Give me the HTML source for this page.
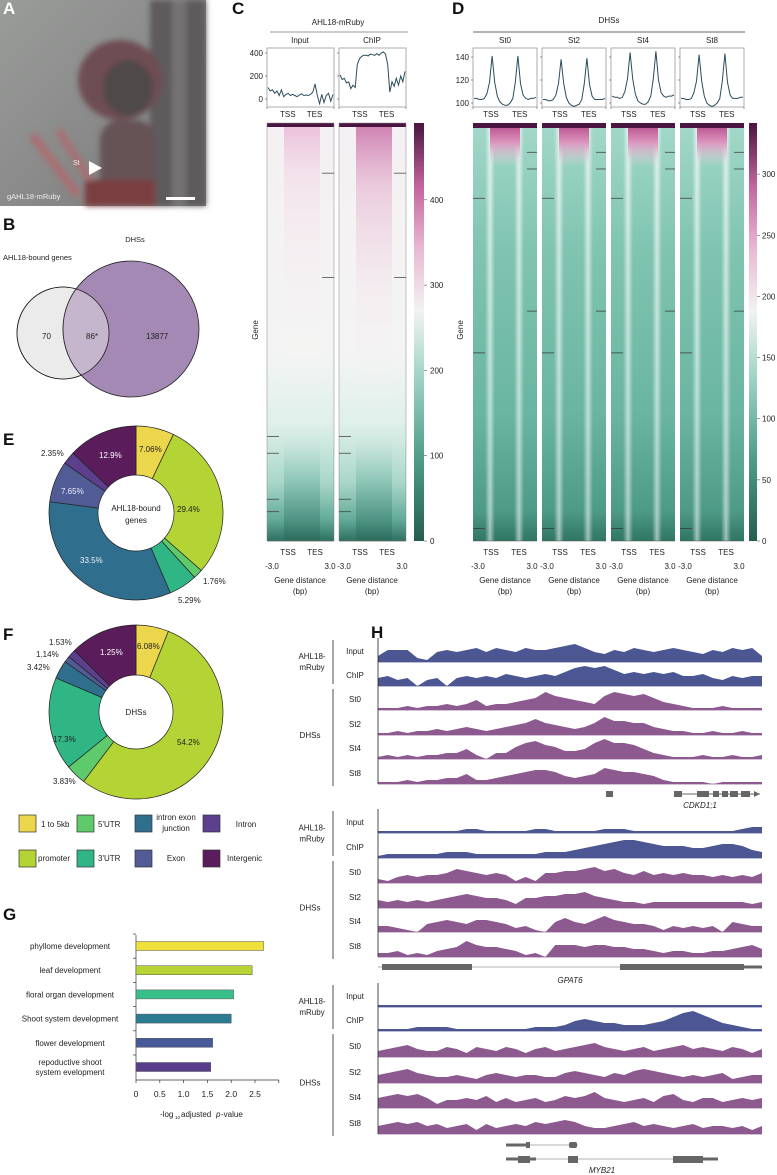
<!DOCTYPE html>
<html><head><meta charset="utf-8">
<style>
html,body{margin:0;padding:0;background:#fff;}
svg{display:block;font-family:"Liberation Sans",sans-serif;}
text{fill:#222;}
.pl{font-weight:bold;font-size:17px;fill:#111;}
</style></head>
<body>
<svg id="fig" width="777" height="1175" viewBox="0 0 777 1175" xmlns="http://www.w3.org/2000/svg">
<defs>
<linearGradient id="hmC" x1="0" y1="0" x2="0" y2="1">
<stop offset="0" stop-color="#f5f0f3"/><stop offset="0.55" stop-color="#f3f4f3"/><stop offset="0.72" stop-color="#dff0ea"/><stop offset="0.86" stop-color="#a9d7ca"/><stop offset="0.95" stop-color="#62aa98"/><stop offset="1" stop-color="#2e6f60"/></linearGradient>
<linearGradient id="hmCmid" x1="0" y1="0" x2="0" y2="1">
<stop offset="0" stop-color="#e6acd0" stop-opacity="0.7"/><stop offset="0.12" stop-color="#f0c8dd" stop-opacity="0.35"/><stop offset="0.35" stop-color="#f6e6ee" stop-opacity="0.15"/><stop offset="0.7" stop-color="#ffffff" stop-opacity="0"/><stop offset="0.85" stop-color="#5ea897" stop-opacity="0.35"/><stop offset="1" stop-color="#2b6a5b" stop-opacity="0.6"/></linearGradient>
<linearGradient id="hmCmid2" x1="0" y1="0" x2="0" y2="1">
<stop offset="0" stop-color="#c86fa6" stop-opacity="0.85"/><stop offset="0.15" stop-color="#e2a6c8" stop-opacity="0.5"/><stop offset="0.4" stop-color="#f3dbe8" stop-opacity="0.25"/><stop offset="0.7" stop-color="#ffffff" stop-opacity="0"/><stop offset="0.85" stop-color="#5ea897" stop-opacity="0.35"/><stop offset="1" stop-color="#2b6a5b" stop-opacity="0.6"/></linearGradient>
<linearGradient id="hmD" x1="0" y1="0" x2="0" y2="1">
<stop offset="0" stop-color="#a3d8c9"/><stop offset="0.3" stop-color="#80c4b1"/><stop offset="0.7" stop-color="#69b5a1"/><stop offset="0.93" stop-color="#4d9a86"/><stop offset="1" stop-color="#2f7564"/></linearGradient>
<linearGradient id="stripe" x1="0" y1="0" x2="1" y2="0">
<stop offset="0" stop-color="#fff" stop-opacity="0"/><stop offset="0.5" stop-color="#fff" stop-opacity="0.7"/><stop offset="1" stop-color="#fff" stop-opacity="0"/></linearGradient>
<linearGradient id="stripeFade" x1="0" y1="0" x2="0" y2="1">
<stop offset="0" stop-color="#fff" stop-opacity="1"/><stop offset="0.8" stop-color="#fff" stop-opacity="0.6"/><stop offset="1" stop-color="#fff" stop-opacity="0.1"/></linearGradient>
<mask id="stripeMask"><rect x="0" y="0" width="777" height="1175" fill="url(#stripeFade)"/></mask>
<linearGradient id="pinkTop" x1="0" y1="0" x2="0" y2="1">
<stop offset="0" stop-color="#b9538f"/><stop offset="0.4" stop-color="#dc93bd"/><stop offset="1" stop-color="#f4d6e6" stop-opacity="0"/></linearGradient>
<linearGradient id="cbC" x1="0" y1="1" x2="0" y2="0">
<stop offset="0" stop-color="#255e51"/><stop offset="0.2" stop-color="#4f9d8a"/><stop offset="0.4" stop-color="#a3d6c8"/><stop offset="0.55" stop-color="#f2f2f2"/><stop offset="0.7" stop-color="#e9b8d3"/><stop offset="0.85" stop-color="#c2649d"/><stop offset="1" stop-color="#4a1540"/></linearGradient>
<linearGradient id="photo" x1="0" y1="0" x2="1" y2="1">
<stop offset="0" stop-color="#9a9c9a"/><stop offset="1" stop-color="#7a7a7a"/></linearGradient>
<filter id="blur"><feGaussianBlur stdDeviation="3"/></filter>
</defs>

<!-- Panel A -->
<g>
<rect x="0" y="0" width="206" height="206" fill="url(#photo)"/>
<g filter="url(#blur)">
<rect x="150" y="0" width="56" height="206" fill="#5e5a5c"/>
<rect x="172" y="0" width="14" height="206" fill="#757373"/>
<ellipse cx="120" cy="80" rx="42" ry="40" fill="#6e4e52"/>
<ellipse cx="128" cy="88" rx="25" ry="28" fill="#504848"/>
<rect x="100" y="120" width="55" height="86" rx="20" fill="#665356"/>
<rect x="85" y="180" width="70" height="26" fill="#7a3d40"/>
<line x1="32" y1="135" x2="78" y2="195" stroke="#a87073" stroke-width="9"/>
<line x1="58" y1="130" x2="90" y2="180" stroke="#a87073" stroke-width="8"/>
</g>
<text x="3" y="14" class="pl" style="fill:#fff">A</text>
<text x="73" y="165" font-size="7" style="fill:#eee">St</text>
<polygon points="89,161 89,175 102,168" fill="#fff"/>
<text x="7" y="199" font-size="7.5" style="fill:#eee">gAHL18-mRuby</text>
<rect x="166" y="197" width="29" height="3" fill="#fff"/>
</g>

<!-- Panel B -->
<g>
<text x="3" y="230" class="pl">B</text>
<text x="135" y="242" font-size="7.5" text-anchor="middle">DHSs</text>
<text x="3" y="260" font-size="7.5">AHL18-bound genes</text>
<circle cx="63" cy="333" r="46" fill="#ebebeb" stroke="#222" stroke-width="0.8"/>
<circle cx="131" cy="329" r="68" fill="#a489b4" stroke="#222" stroke-width="0.8"/>
<clipPath id="smallc"><circle cx="63" cy="333" r="46"/></clipPath>
<circle cx="131" cy="329" r="68" fill="#c6b6cd" clip-path="url(#smallc)" stroke="#222" stroke-width="0.8"/>
<circle cx="63" cy="333" r="46" fill="none" stroke="#222" stroke-width="0.8"/>
<text x="42" y="339" font-size="8">70</text>
<text x="86" y="339" font-size="8">86*</text>
<text x="146" y="339" font-size="8">13877</text>
</g>

<text x="3" y="445" class="pl">E</text>
<text x="3" y="640" class="pl">F</text>
<text x="3" y="920" class="pl">G</text>
<text x="232" y="14" class="pl">C</text>
<text x="452" y="14" class="pl">D</text>
<text x="371" y="638" class="pl">H</text>

<g id="gE"></g>
<g id="gF"></g>
<g id="gLeg"></g>
<g id="gG"></g>
<g id="gC"></g>
<g id="gD"></g>
<g id="gH"></g>
</svg>

<script>
// ---------- data ----------
const featureNames = ["1 to 5kb","promoter","5'UTR","3'UTR","intron exon junction","Exon","Intron","Intergenic"];
const featureColors = ["#ebd64c","#b4d334","#5fca6b","#30b584","#2f6f8d","#515c97","#5c3f8d","#5a1c5b"];
const eValues = [7.06,29.4,1.76,5.29,33.5,7.65,2.35,12.9];
const eLabels = ["7.06%","29.4%","1.76%","5.29%","33.5%","7.65%","2.35%","12.9%"];
const fValues = [6.08,54.2,3.83,17.3,3.42,1.14,1.53,12.5];
const fLabels = ["6.08%","54.2%","3.83%","17.3%","3.42%","1.14%","1.53%","1.25%"];

const goTerms = ["phyllome development","leaf development","floral organ development","Shoot system development","flower development","repoductive shoot|system evelopment"];
const goValues = [2.68,2.44,2.05,2.0,1.61,1.57];
const goColors = ["#f0e03c","#b6d436","#38c08a","#2b7b93","#48599a","#5a3c8c"];
const goTicks = [0,0.5,1.0,1.5,2.0,2.5];

const cInput = [100,70,80,50,70,30,80,20,40,50,30,40,30,20,35,45,30,35,30,40,60,130,30,-40,40,-30,30,50,-20,40];
const cChip = [210,170,180,140,150,90,120,100,300,350,370,380,380,375,390,385,380,395,380,400,410,390,300,60,150,110,180,120,200,150,240];
const cTicks = [0,200,400];
const cbTicks = [0,100,200,300,400];
const dSt0 = [104,104,103,103,104,108,118,141,118,106,101,99,98,98,100,104,118,141,117,107,104,103,104,104,105];
const dSt2 = [103,103,102,102,103,107,117,138,117,105,100,98,97,98,99,103,117,139,116,106,103,103,103,103,104];
const dSt4 = [106,105,105,104,105,110,121,144,121,108,102,100,99,99,101,106,121,145,120,109,106,105,106,106,107];
const dSt8 = [104,104,103,103,104,109,119,142,119,106,100,98,97,98,100,104,119,143,118,107,104,104,104,105,105];
const dTicks = [100,120,140];
const dbTicks = [0,50,100,150,200,250,300];

// genome tracks (0-10 scale)
const h1Input = [3,6,6,6,2,1,5,6,5,6,7,5,7,6,5,7,6,6,7,8,9,7,5,4,6,5,7,6,5,6,7,6,5,4,6,5,7,6,7,3];
const h1Chip = [4,5,3,4,0,3,4,0,4,5,4,5,4,6,5,4,5,6,5,7,9,10,9,10,8,6,7,6,7,6,7,5,5,6,4,3,5,4,5,5];
const h1St0 = [1,1,1,2,1,2,2,3,2,3,5,2,3,3,4,5,6,9,7,6,5,4,3,7,9,8,7,8,6,4,3,2,1,1,1,2,1,1,1,1];
const h1St2 = [1,1,2,1,2,2,3,2,3,4,3,2,3,4,5,6,8,6,5,4,3,4,6,9,7,7,6,6,4,3,2,2,1,1,2,1,1,2,1,1];
const h1St4 = [1,2,1,2,1,2,2,3,3,5,2,0,3,3,6,8,9,7,6,4,4,5,8,10,8,8,7,5,3,2,1,1,1,2,1,1,2,1,1,2];
const h1St8 = [1,1,1,2,1,2,2,3,3,5,2,2,3,4,5,6,7,7,6,4,3,4,5,8,7,6,6,5,4,2,1,1,1,1,0,1,1,1,1,1];
const h2Input = [1,1,1,1,1,1,1,1,1,2,2,1,1,1,1,1,2,2,1,1,1,1,1,2,2,2,1,1,1,1,1,1,1,1,1,1,1,2,3,3];
const h2Chip = [1,2,2,2,2,2,2,3,3,3,2,2,2,2,2,2,2,3,3,3,4,5,6,7,8,9,9,8,7,6,6,6,5,5,6,7,7,6,4,3];
const h2St0 = [2,1,3,4,3,4,4,5,7,6,5,4,5,4,1,3,1,5,5,6,6,7,8,6,7,5,4,6,4,5,4,5,4,4,3,4,3,4,3,5];
const h2St2 = [4,3,4,3,4,3,4,5,6,7,6,5,5,4,2,5,5,6,6,7,7,8,6,5,4,3,3,2,3,3,3,3,3,3,3,3,3,3,2,3];
const h2St4 = [3,3,2,1,0,4,5,6,5,4,6,6,5,4,2,3,1,0,5,7,5,4,6,8,6,5,4,4,3,1,3,2,3,2,3,0,5,4,3,3];
const h2St8 = [2,2,3,1,2,1,3,4,5,8,6,5,5,4,3,1,2,0,6,6,6,5,6,6,5,5,4,4,3,2,3,3,2,2,3,3,4,5,6,4];
const h3Input = [1,1,1,1,1,1,1,1,1,1,1,1,1,1,1,1,1,1,1,1,1,1,1,1,1,1,1,1,1,1,1,1,1,1,1,1,1,1,1,1];
const h3Chip = [1,1,1,1,2,2,2,2,1,1,1,1,1,1,1,1,2,2,2,3,5,6,5,4,4,3,3,3,4,5,7,9,10,8,6,4,3,2,1,1];
const h3St0 = [3,4,5,6,4,3,3,5,4,2,5,4,3,5,4,2,4,5,3,4,5,6,7,5,4,3,4,5,3,4,5,6,4,5,4,3,5,4,2,4];
const h3St2 = [4,5,6,7,5,4,3,3,4,3,2,4,5,4,3,4,4,3,3,5,6,5,4,3,5,4,6,7,6,5,4,3,4,3,4,5,2,3,4,4];
const h3St4 = [5,6,7,6,7,5,2,4,4,5,4,6,3,5,3,4,5,3,4,6,5,6,8,5,4,3,4,5,3,6,7,4,3,5,5,3,4,5,4,5];
const h3St8 = [4,5,6,5,6,4,5,3,4,5,2,5,3,4,5,4,6,5,6,7,6,4,3,3,4,5,6,4,5,4,3,4,5,3,4,4,3,4,2,4];

// ---------- helpers ----------
const NS = "http://www.w3.org/2000/svg";
function mk(tag, parent, attrs){ const e=document.createElementNS(NS,tag); for(const k in attrs) e.setAttribute(k,attrs[k]); parent.appendChild(e); return e; }
function txt(parent, x, y, s, size, anchor, fill, extra){ const t=mk("text",parent,{x:x,y:y,"font-size":size||8,"text-anchor":anchor||"start"}); if(fill) t.setAttribute("style","fill:"+fill); if(extra) for(const k in extra) t.setAttribute(k,extra[k]); t.textContent=s; return t; }

// ---------- donuts ----------
function donut(g, cx, cy, ro, ri, vals, labels, labelPos, labelFill, name){
  const tot = vals.reduce((a,b)=>a+b,0);
  let acc=0;
  vals.forEach((v,i)=>{
    const a0=acc/tot*2*Math.PI, a1=(acc+v)/tot*2*Math.PI; acc+=v;
    const p=(r,a)=>[cx+r*Math.sin(a), cy-r*Math.cos(a)];
    const large=(a1-a0)>Math.PI?1:0;
    const [x0,y0]=p(ro,a0),[x1,y1]=p(ro,a1),[x2,y2]=p(ri,a1),[x3,y3]=p(ri,a0);
    const path=mk("path",g,{d:`M${x0},${y0}A${ro},${ro} 0 ${large} 1 ${x1},${y1}L${x2},${y2}A${ri},${ri} 0 ${large} 0 ${x3},${y3}Z`,fill:featureColors[i],stroke:"#222","stroke-width":0.7});
    
    
  });
  labels.forEach((l,i)=>{
    const t=txt(g,labelPos[i][0],labelPos[i][1],l,8,"start",labelFill[i]);
    
    
  });
}
const gE=document.getElementById("gE");
donut(gE,136,513,87,38,eValues,eLabels,[[139,452],[177,512],[203,584],[178,603],[80,563],[61,494],[41,456],[99,458]],[null,null,null,null,"#eef","#eef",null,"#fff"],"e");
txt(gE,136,511,"AHL18-bound",8,"middle");
txt(gE,136,523,"genes",8,"middle");
const gF=document.getElementById("gF");
donut(gF,136,712,87,37,fValues,fLabels,[[137,649],[177,745],[53,784],[53,742],[27,670],[36,657],[49,645],[100,655]],[null,null,null,null,null,null,null,"#fff"],"f");
txt(gF,136,715,"DHSs",8,"middle");

// legend
const gL=document.getElementById("gLeg");
const legPos=[[19,815],[19,850],[77,815],[77,850],[135,815],[135,850],[203,815],[203,850]];
featureNames.forEach((n,i)=>{
  const r=mk("rect",gL,{x:legPos[i][0],y:legPos[i][1],width:17,height:17,fill:featureColors[i],stroke:"#333","stroke-width":0.7});
  
  
});
txt(gL,41,827,"1 to 5kb",8);
txt(gL,38,861,"promoter",8);
txt(gL,98,827,"5'UTR",8);
txt(gL,98,861,"3'UTR",8);
txt(gL,176,820,"intron exon",8,"middle");
txt(gL,176,831,"junction",8,"middle");
txt(gL,176,861,"Exon",8,"middle");
txt(gL,246,827,"Intron",8,"middle");
txt(gL,227,861,"Intergenic",8);

// ---------- G bar chart ----------
const gG=document.getElementById("gG");
const gx=v=>136+v*47.6;
const gy0=946, gStep=24.2;
mk("line",gG,{x1:136,y1:935,x2:136,y2:1080,stroke:"#333","stroke-width":0.7});
mk("line",gG,{x1:136,y1:1080,x2:gx(3),y2:1080,stroke:"#333","stroke-width":0.7});
goTicks.forEach(t=>{ mk("line",gG,{x1:gx(t),y1:1080,x2:gx(t),y2:1083,stroke:"#333","stroke-width":0.7}); const l=txt(gG,gx(t),1097,t===0?"0":t.toFixed(1),8.5,"middle");   });
mk("line",gG,{x1:gx(3),y1:1080,x2:gx(3),y2:1083,stroke:"#333","stroke-width":0.7});
goTerms.forEach((t,i)=>{
  const cy=gy0+i*gStep;
  const b=mk("rect",gG,{x:136,y:cy-4.5,width:gx(goValues[i])-136,height:9,fill:goColors[i],stroke:"#555","stroke-width":0.5});
  
  
  mk("line",gG,{x1:133,y1:cy-12,x2:136,y2:cy-12,stroke:"#333","stroke-width":0.7});
  const parts=t.split("|");
  parts.forEach((p,j)=>{ const l=txt(gG,70,cy+3+(j-(parts.length-1)/2)*10,p,8,"middle");   });
});
const at=txt(gG,160,1117,"-log",8,"start");
 
txt(gG,175,1119,"10",4.5);
txt(gG,181,1117,"adjusted",8);
txt(gG,216,1117,"p",8,"start",null,{"font-style":"italic"});
txt(gG,221,1117,"-value",8);

// ---------- C ----------
const gC=document.getElementById("gC");
txt(gC,338,25,"AHL18-mRuby",8,"middle");
mk("line",gC,{x1:270,y1:32,x2:408,y2:32,stroke:"#999","stroke-width":1});
const hmTop=123, hmBot=541;
function profile(g,x0,w,y0,h,vals,ymap,tssFrac,tesFrac,tickVals,showTicks,name){
  mk("rect",g,{x:x0,y:y0,width:w,height:h,fill:"none",stroke:"#999","stroke-width":0.8});
  let d="";
  vals.forEach((v,i)=>{ const x=x0+1+i*(w-2)/(vals.length-1); d+=(i?"L":"M")+x.toFixed(1)+","+ymap(v).toFixed(1); });
  const p=mk("path",g,{d:d,fill:"none",stroke:"#2c4d5c","stroke-width":1});
  
  
  tickVals.forEach(t=>{ mk("line",g,{x1:x0-2,y1:ymap(t),x2:x0,y2:ymap(t),stroke:"#555","stroke-width":0.6}); if(showTicks){ const l=txt(g,x0-4,ymap(t)+3,String(t),8,"end");   } });
  const tx=x0+w*tssFrac, ex=x0+w*tesFrac;
  txt(g,tx,117,"TSS",8,"middle"); txt(g,ex,117,"TES",8,"middle");
  mk("line",g,{x1:x0,y1:y0+h,x2:x0,y2:y0+h+2,stroke:"#555","stroke-width":0.6});
  mk("line",g,{x1:x0+w,y1:y0+h,x2:x0+w,y2:y0+h+2,stroke:"#555","stroke-width":0.6});
}
const cY=v=>99-v*0.115;
const cPanels=[{x:267,name:"Input",vals:cInput,grad:"url(#hmCmid)"},{x:339,name:"ChIP",vals:cChip,grad:"url(#hmCmid2)"}];
const tickMarksC=[[0.12,false],[0.37,false],[0.75,true],[0.79,true],[0.9,true],[0.93,true]];
cPanels.forEach((p,i)=>{
  txt(gC,p.x+33,43,p.name,8,"middle");
  profile(gC,p.x,67,48,59,p.vals,cY,0.31,0.71,cTicks,i===0,"profile-"+p.name.toLowerCase());
  const hm=mk("rect",gC,{x:p.x,y:hmTop,width:67,height:hmBot-hmTop,fill:"url(#hmC)"});
  
  
  mk("rect",gC,{x:p.x+17,y:hmTop+3,width:36,height:hmBot-hmTop-3,fill:p.grad});
  mk("rect",gC,{x:p.x,y:hmTop,width:67,height:4,fill:"#4a1540"});
  mk("rect",gC,{x:p.x,y:hmTop,width:67,height:hmBot-hmTop,fill:"none",stroke:"#888","stroke-width":0.5});
  tickMarksC.forEach(([f,left])=>{ const y=hmTop+f*(hmBot-hmTop); if(left) mk("line",gC,{x1:p.x,y1:y,x2:p.x+12,y2:y,stroke:"#333","stroke-width":0.7}); else mk("line",gC,{x1:p.x+55,y1:y,x2:p.x+67,y2:y,stroke:"#333","stroke-width":0.7}); });
  mk("line",gC,{x1:p.x,y1:hmBot,x2:p.x+67,y2:hmBot,stroke:"#555","stroke-width":0.6});
  txt(gC,p.x+21,555,"TSS",8,"middle"); txt(gC,p.x+48,555,"TES",8,"middle");
  txt(gC,p.x+5,569,"-3.0",8,"middle"); txt(gC,p.x+63,569,"3.0",8,"middle");
  txt(gC,p.x+33,583,"Gene distance",8,"middle"); txt(gC,p.x+33,594,"(bp)",8,"middle");
});
txt(gC,258,330,"Gene",8,"middle",null,{transform:"rotate(-90 258 330)"});
const cbC=mk("rect",gC,{x:414,y:hmTop,width:10,height:hmBot-hmTop,fill:"url(#cbC)"});
 
cbTicks.forEach(t=>{ const y=hmBot-t*0.853; mk("line",gC,{x1:424,y1:y,x2:427,y2:y,stroke:"#555","stroke-width":0.6}); txt(gC,430,y+3,String(t),8); });

// ---------- D ----------
const gD=document.getElementById("gD");
txt(gD,609,23,"DHSs",8,"middle");
mk("line",gD,{x1:473,y1:32,x2:745,y2:32,stroke:"#333","stroke-width":0.8});
const dY=v=>103-(v-100)*1.15;
const dPanels=[{x:473,name:"St0",vals:dSt0},{x:542,name:"St2",vals:dSt2},{x:611,name:"St4",vals:dSt4},{x:680,name:"St8",vals:dSt8}];
const tickMarksD=[[0.07,false],[0.11,false],[0.18,true],[0.45,false],[0.55,true],[0.97,true]];
dPanels.forEach((p,i)=>{
  const w=64;
  txt(gD,p.x+32,43,p.name,8,"middle");
  profile(gD,p.x,w,48,59,p.vals,dY,0.28,0.73,dTicks,i===0,"profile-"+p.name.toLowerCase());
  const hm=mk("rect",gD,{x:p.x,y:hmTop,width:w,height:hmBot-hmTop,fill:"url(#hmD)"});
  
  
  const sg=mk("g",gD,{mask:"url(#stripeMask)"});
  mk("rect",sg,{x:p.x+12,y:hmTop,width:10,height:hmBot-hmTop,fill:"url(#stripe)"});
  mk("rect",sg,{x:p.x+41,y:hmTop,width:10,height:hmBot-hmTop,fill:"url(#stripe)"});
  mk("rect",gD,{x:p.x+17,y:hmTop+3,width:30,height:40,fill:"url(#pinkTop)"});
  mk("rect",gD,{x:p.x,y:hmTop,width:w,height:5,fill:"#4a1540"});
  tickMarksD.forEach(([f,left])=>{ const y=hmTop+f*(hmBot-hmTop); if(left) mk("line",gD,{x1:p.x,y1:y,x2:p.x+12,y2:y,stroke:"#333","stroke-width":0.7}); else mk("line",gD,{x1:p.x+54,y1:y,x2:p.x+w,y2:y,stroke:"#333","stroke-width":0.7}); });
  mk("line",gD,{x1:p.x,y1:hmBot,x2:p.x+w,y2:hmBot,stroke:"#555","stroke-width":0.6});
  txt(gD,p.x+18,555,"TSS",8,"middle"); txt(gD,p.x+46,555,"TES",8,"middle");
  txt(gD,p.x+5,569,"-3.0",8,"middle"); txt(gD,p.x+59,569,"3.0",8,"middle");
  txt(gD,p.x+32,583,"Gene distance",8,"middle"); txt(gD,p.x+32,594,"(bp)",8,"middle");
});
txt(gD,463,330,"Gene",8,"middle",null,{transform:"rotate(-90 463 330)"});
const cbD=mk("rect",gD,{x:749,y:hmTop,width:8,height:hmBot-hmTop,fill:"url(#cbC)"});
 
dbTicks.forEach(t=>{ const y=hmBot-t*1.223; mk("line",gD,{x1:757,y1:y,x2:760,y2:y,stroke:"#555","stroke-width":0.6}); txt(gD,762,y+3,String(t),8); });

// ---------- H ----------
const gH=document.getElementById("gH");
const hx0=378, hx1=762;
function track(vals, base, color, name){
  let d="M"+hx0+","+base;
  vals.forEach((v,i)=>{ const x=hx0+i*(hx1-hx0)/(vals.length-1); d+="L"+x.toFixed(1)+","+(base-v*2).toFixed(1); });
  d+="L"+hx1+","+base+"Z";
  const p=mk("path",gH,{d:d,fill:color});
  
  
  mk("line",gH,{x1:hx0,y1:base,x2:hx1,y2:base,stroke:color,"stroke-width":0.8});
}
const blue="#4b5692", purp="#8d5a90";
const groups=[
  {bases:[662,686,710,735,759,784],data:[h1Input,h1Chip,h1St0,h1St2,h1St4,h1St8],gene:"CDKD1;1"},
  {bases:[833,858,883,908,932,957],data:[h2Input,h2Chip,h2St0,h2St2,h2St4,h2St8],gene:"GPAT6"},
  {bases:[1007,1031,1057,1083,1108,1134],data:[h3Input,h3Chip,h3St0,h3St2,h3St4,h3St8],gene:"MYB21"}];
const trackNames=["Input","ChIP","St0","St2","St4","St8"];
groups.forEach((g,gi)=>{
  g.data.forEach((arr,j)=>{ track(arr,g.bases[j],j<2?blue:purp,"track-"+(gi+1)+"-"+trackNames[j].toLowerCase()); txt(gH,355,g.bases[j]-8,trackNames[j],8,"middle"); });
  const top=g.bases[0]-24, bot=g.bases[5];
  mk("line",gH,{x1:hx0,y1:top,x2:hx0,y2:bot,stroke:"#222","stroke-width":0.8});
  mk("line",gH,{x1:333,y1:top+2,x2:333,y2:g.bases[1]-2,stroke:"#222","stroke-width":0.8});
  mk("line",gH,{x1:333,y1:g.bases[1]+3,x2:333,y2:bot+2,stroke:"#222","stroke-width":0.8});
  txt(gH,312,(top+g.bases[1])/2-3,"AHL18-",8,"middle");
  txt(gH,312,(top+g.bases[1])/2+8,"mRuby",8,"middle");
  txt(gH,310,(g.bases[1]+bot)/2+3,"DHSs",8,"middle");
});
// gene models
const gm="#666";
mk("rect",gH,{x:606,y:791,width:7,height:6,fill:gm});
mk("line",gH,{x1:674,y1:794,x2:760,y2:794,stroke:gm,"stroke-width":1});
[[674,8],[697,12],[713,6],[722,6],[730,8],[741,9]].forEach(([x,w])=>mk("rect",gH,{x:x,y:791,width:w,height:6,fill:gm}));
mk("polygon",gH,{points:"754,791 760,794 754,797",fill:gm});
txt(gH,700,808,"CDKD1;1",8,"middle",null,{"font-style":"italic"});
mk("line",gH,{x1:378,y1:967,x2:762,y2:967,stroke:"#999","stroke-width":0.8});
mk("rect",gH,{x:382,y:964,width:90,height:6,fill:gm});
mk("rect",gH,{x:620,y:964,width:124,height:6,fill:gm});
mk("rect",gH,{x:744,y:965.5,width:18,height:3,fill:gm});
txt(gH,570,983,"GPAT6",8,"middle",null,{"font-style":"italic"});
mk("line",gH,{x1:506,y1:1145,x2:578,y2:1145,stroke:"#999","stroke-width":0.8});
mk("rect",gH,{x:506,y:1143.5,width:22,height:3,fill:gm});
mk("rect",gH,{x:526,y:1142,width:4,height:6,fill:gm});
mk("rect",gH,{x:569,y:1142,width:8,height:6,rx:2,fill:gm});
mk("line",gH,{x1:506,y1:1159,x2:718,y2:1159,stroke:"#999","stroke-width":0.8});
mk("rect",gH,{x:506,y:1157.5,width:30,height:3,fill:gm});
mk("rect",gH,{x:518,y:1156,width:12,height:7,fill:gm});
mk("rect",gH,{x:568,y:1156,width:10,height:7,fill:gm});
mk("rect",gH,{x:673,y:1156,width:30,height:7,fill:gm});
mk("rect",gH,{x:703,y:1157.5,width:15,height:3,fill:gm});
txt(gH,602,1173,"MYB21",8,"middle",null,{"font-style":"italic"});
</script>
</body></html>
